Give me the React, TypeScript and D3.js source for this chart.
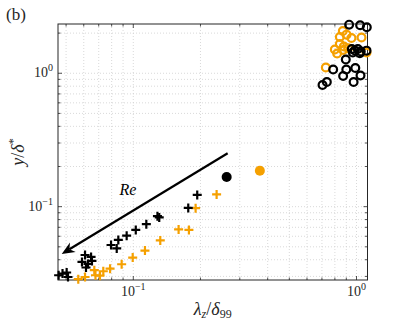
import { useEffect, useRef } from "react";
import * as d3 from "d3";

// black "+" markers (lambda_z/delta_99, y/delta*)
const blackCrossX = [0.1934, 0.1763, 0.1307, 0.1283, 0.1144, 0.1026, 0.0934, 0.0857, 0.0843, 0.0795,
  0.0608, 0.0647, 0.0589, 0.0627, 0.0614, 0.0653, 0.0463, 0.0482, 0.0503, 0.0510];
const blackCrossY = [0.1224, 0.0978, 0.0830, 0.0848, 0.0739, 0.0669, 0.0606, 0.0563, 0.0486, 0.0516,
  0.0434, 0.0420, 0.0385, 0.0372, 0.0350, 0.0392, 0.0306, 0.0315, 0.0321, 0.0297];

// orange "+" markers
const orangeCrossX = [0.2362, 0.1902, 0.1596, 0.1775, 0.1321, 0.1128, 0.0994, 0.0887, 0.0787, 0.0734,
  0.0669, 0.0677, 0.0608, 0.0567, 0.0709];
const orangeCrossY = [0.1235, 0.0975, 0.0675, 0.0669, 0.0558, 0.0469, 0.0415, 0.0370, 0.0343, 0.0328,
  0.0334, 0.0306, 0.0297, 0.0286, 0.0304];

// open circles
const blackRingX = [0.9266, 1.038, 1.112, 0.9528, 0.9826, 1.0134, 1.045, 0.9625, 1.109, 1.035,
  0.8954, 0.786, 0.900, 0.9877, 0.871, 1.042, 0.9705, 0.7043, 0.7363];
const blackRingY = [2.313, 2.290, 2.212, 1.521, 1.482, 1.521, 1.457, 1.432, 1.477, 1.413,
  1.269, 1.068, 1.068, 1.096, 0.9545, 0.9627, 0.8606, 0.8173, 0.8606];

const orangeRingX = [0.8683, 0.9021, 0.8419, 0.9497, 1.053, 0.8419, 0.8774, 0.7996, 0.8188, 0.871,
  0.917, 1.109, 0.7287];
const orangeRingY = [2.075, 1.947, 1.872, 1.839, 1.855, 1.658, 1.588, 1.508, 1.407, 1.495,
  1.539, 1.432, 1.105];

// filled dots
const blackDot = [0.262, 0.167];
const orangeDot = [0.369, 0.186];

// Re arrow (start -> tip) and label position
const arrowFrom = [0.2647, 0.2514];
const arrowTo = [0.0478, 0.0442];
const reLabel = [0.0947, 0.1224];

const xMajor = [0.1, 1];
const xMajorExp = ["\u22121", "0"];
const yMajor = [0.1, 1];
const yMajorExp = ["\u22121", "0"];

const ORANGE = "#f5a000";

const App = () => {
  const svgRef = useRef(null);

  useEffect(() => {
    const W = 407, H = 326;
    const margin = { top: 24, right: 39.5, bottom: 46, left: 58 };
    const width = W - margin.left - margin.right;
    const height = H - margin.top - margin.bottom;

    const svg = d3.select(svgRef.current);
    svg.selectAll("*").remove();
    svg.attr("width", W).attr("height", H);

    const g = svg.append("g").attr("transform", `translate(${margin.left},${margin.top})`);

    const x = d3.scaleLog().domain([0.046, 1.12]).range([0, width]);
    const y = d3.scaleLog().domain([0.0282, 2.34]).range([height, 0]);

    const minorOf = (sc) => {
      const [a, b] = sc.domain();
      const out = [];
      for (let e = -3; e <= 1; e++) {
        for (let m = 1; m <= 9; m++) {
          const v = m * Math.pow(10, e);
          if (v >= a && v <= b) out.push(v);
        }
      }
      return out;
    };
    const xAll = minorOf(x);
    const yAll = minorOf(y);

    // grid
    const grid = g.append("g").attr("stroke", "#cfcfcf").attr("stroke-width", 0.8).attr("stroke-dasharray", "1,2");
    xAll.forEach(v => {
      grid.append("line").attr("x1", x(v)).attr("x2", x(v)).attr("y1", 0).attr("y2", height);
    });
    yAll.forEach(v => {
      grid.append("line").attr("y1", y(v)).attr("y2", y(v)).attr("x1", 0).attr("x2", width);
    });

    // ticks (inward, all four sides)
    const ticks = g.append("g").attr("stroke", "#262626").attr("stroke-width", 0.8);
    xAll.forEach(v => {
      const len = xMajor.includes(v) ? 4 : 2.5;
      ticks.append("line").attr("x1", x(v)).attr("x2", x(v)).attr("y1", height).attr("y2", height - len);
      ticks.append("line").attr("x1", x(v)).attr("x2", x(v)).attr("y1", 0).attr("y2", len);
    });
    yAll.forEach(v => {
      const len = yMajor.includes(v) ? 4 : 2.5;
      ticks.append("line").attr("y1", y(v)).attr("y2", y(v)).attr("x1", 0).attr("x2", len);
      ticks.append("line").attr("y1", y(v)).attr("y2", y(v)).attr("x1", width).attr("x2", width - len);
    });

    // box
    g.append("rect").attr("width", width).attr("height", height)
      .attr("fill", "none").attr("stroke", "#262626").attr("stroke-width", 1);

    const font = "'Liberation Serif', 'DejaVu Serif', serif";

    // tick labels
    xMajor.forEach((v, i) => {
      const t = g.append("text").attr("x", x(v)).attr("y", height + 16)
        .attr("text-anchor", "middle").style("font-family", font).style("font-size", "14px").attr("fill", "#262626");
      t.append("tspan").text("10");
      t.append("tspan").attr("dy", -6).style("font-size", "10px").text(xMajorExp[i]);
    });
    yMajor.forEach((v, i) => {
      const t = g.append("text").attr("x", -5).attr("y", y(v) + 4)
        .attr("text-anchor", "end").style("font-family", font).style("font-size", "14px").attr("fill", "#262626");
      t.append("tspan").text("10");
      t.append("tspan").attr("dy", -6).style("font-size", "10px").text(yMajorExp[i]);
    });

    // markers
    const cross = (cx, cy, color) => {
      const s = 4.5;
      g.append("path")
        .attr("d", `M${cx - s},${cy}H${cx + s}M${cx},${cy - s}V${cy + s}`)
        .attr("stroke", color).attr("stroke-width", 2.2).attr("fill", "none");
    };
    orangeCrossX.forEach((v, i) => cross(x(v), y(orangeCrossY[i]), ORANGE));
    blackCrossX.forEach((v, i) => cross(x(v), y(blackCrossY[i]), "#000"));

    const ring = (cx, cy, color) => {
      g.append("circle").attr("cx", cx).attr("cy", cy).attr("r", 3.9)
        .attr("fill", "none").attr("stroke", color).attr("stroke-width", 2.2);
    };
    orangeRingX.forEach((v, i) => ring(x(v), y(orangeRingY[i]), ORANGE));
    blackRingX.forEach((v, i) => ring(x(v), y(blackRingY[i]), "#000"));

    g.append("circle").attr("cx", x(blackDot[0])).attr("cy", y(blackDot[1])).attr("r", 5).attr("fill", "#000");
    g.append("circle").attr("cx", x(orangeDot[0])).attr("cy", y(orangeDot[1])).attr("r", 5).attr("fill", ORANGE);

    // arrow
    const x0 = x(arrowFrom[0]), y0 = y(arrowFrom[1]);
    const x1 = x(arrowTo[0]), y1 = y(arrowTo[1]);
    const ang = Math.atan2(y1 - y0, x1 - x0);
    const hl = 13, hw = 5.5, notch = 9;
    const ux = Math.cos(ang), uy = Math.sin(ang);
    const px = -uy, py = ux;
    g.append("line").attr("x1", x0).attr("y1", y0)
      .attr("x2", x1 - ux * notch).attr("y2", y1 - uy * notch)
      .attr("stroke", "#000").attr("stroke-width", 2.2);
    g.append("path")
      .attr("d", `M${x1},${y1}L${x1 - ux * hl + px * hw},${y1 - uy * hl + py * hw}` +
        `L${x1 - ux * notch},${y1 - uy * notch}L${x1 - ux * hl - px * hw},${y1 - uy * hl - py * hw}Z`)
      .attr("fill", "#000");

    g.append("text").attr("x", x(reLabel[0])).attr("y", y(reLabel[1]))
      .attr("text-anchor", "middle").style("font-family", font).style("font-size", "16px")
      .style("font-style", "italic").text("Re");

    // axis labels
    const xl = svg.append("text").attr("x", margin.left + width / 2).attr("y", 315)
      .attr("text-anchor", "middle").style("font-family", font).style("font-size", "18px").attr("fill", "#262626");
    xl.append("tspan").style("font-style", "italic").text("λ");
    xl.append("tspan").attr("dy", 3).style("font-size", "12px").style("font-style", "italic").text("z");
    xl.append("tspan").attr("dy", -3).text("/");
    xl.append("tspan").style("font-style", "italic").text("δ");
    xl.append("tspan").attr("dy", 3).style("font-size", "12px").text("99");

    const yl = svg.append("text").attr("transform", `translate(24,${margin.top + height / 2}) rotate(-90)`)
      .attr("text-anchor", "middle").style("font-family", font).style("font-size", "18px").attr("fill", "#262626");
    yl.append("tspan").style("font-style", "italic").text("y");
    yl.append("tspan").text("/");
    yl.append("tspan").style("font-style", "italic").text("δ");
    yl.append("tspan").attr("dy", -7).style("font-size", "12px").text("*");

    svg.append("text").attr("x", 6).attr("y", 20).style("font-family", font).style("font-size", "17px")
      .attr("fill", "#262626").text("(b)");
  }, []);

  return (
    <svg ref={svgRef} style={{ position: "absolute", left: 0, top: 0 }}></svg>
  );
};

export default App;
